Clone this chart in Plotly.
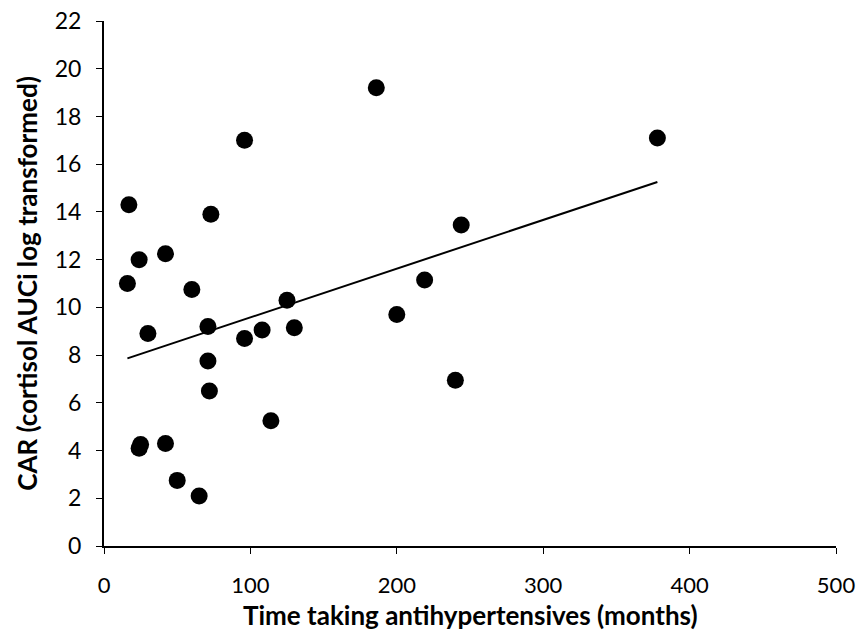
import numpy as np
import plotly.graph_objects as go

months = [16, 17, 24, 24, 25, 30, 42, 42, 50, 60, 65, 71, 71, 72, 73,
          96, 96, 108, 114, 125, 130, 186, 200, 219, 240, 244, 378]
car = [11.0, 14.3, 12.0, 4.1, 4.25, 8.9, 12.25, 4.3, 2.75, 10.75, 2.1, 9.2, 7.75, 6.5, 13.9,
       17.0, 8.7, 9.05, 5.25, 10.3, 9.15, 19.2, 9.7, 11.15, 6.95, 13.45, 17.1]

x_ticks = [0, 100, 200, 300, 400, 500]
y_ticks = list(range(0, 23, 2))

slope, intercept = np.polyfit(months, car, 1)
fit_x = [min(months), max(months)]
fit_y = [slope * v + intercept for v in fit_x]

font_family = "Lato, 'Open Sans', sans-serif"

fig = go.Figure()
fig.add_trace(go.Scatter(x=months, y=car, mode="markers",
                         marker=dict(color="black", size=17), showlegend=False))
fig.add_trace(go.Scatter(x=fit_x, y=fit_y, mode="lines",
                         line=dict(color="black", width=2), showlegend=False))

fig.update_layout(
    width=856, height=634,
    margin=dict(l=104, r=20, t=21, b=88),
    plot_bgcolor="white", paper_bgcolor="white",
    font=dict(family=font_family, color="black"),
)
fig.add_annotation(text="<b>Time taking antihypertensives (months)</b>",
                   xref="paper", yref="paper", x=0.5, y=-0.131,
                   xanchor="center", yanchor="middle", showarrow=False,
                   font=dict(size=26))
fig.update_xaxes(range=[0, 500], tickvals=x_ticks, showgrid=False, zeroline=False,
                 showline=True, linecolor="black", linewidth=2,
                 ticks="outside", ticklen=6, tickcolor="black", tickwidth=1,
                 tickfont=dict(size=22), ticklabelstandoff=13,
                 ticklabeloverflow="allow", automargin=False)
fig.update_yaxes(range=[0, 22], tickvals=y_ticks, showgrid=False, zeroline=False,
                 showline=True, linecolor="black", linewidth=2,
                 ticks="outside", ticklen=6, tickcolor="black", tickwidth=1,
                 tickfont=dict(size=23), ticklabelstandoff=10, automargin=False,
                 title=dict(text="<b>CAR (cortisol AUCi log transformed)</b>",
                            font=dict(size=26), standoff=10))

fig.write_html("out.html")
